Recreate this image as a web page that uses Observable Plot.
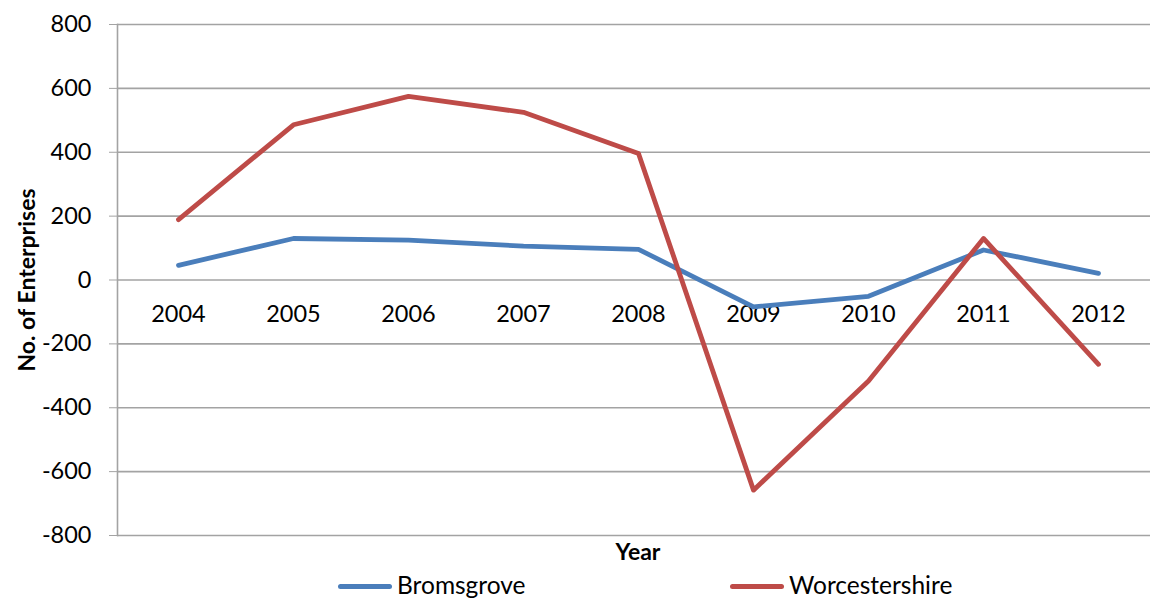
<!DOCTYPE html>
<html>
<head>
<meta charset="utf-8">
<script src="https://cdn.jsdelivr.net/npm/d3@7"></script>
<script src="https://cdn.jsdelivr.net/npm/@observablehq/plot@0.6"></script>
<style>
  html, body { margin: 0; padding: 0; background: #fff; overflow: hidden; }
  #wrap { position: relative; width: 1150px; height: 600px; font-family: Lato, "Open Sans", sans-serif; }
  #legend { position: absolute; left: 0; top: 570px; width: 1150px; height: 30px; overflow: hidden; }
  .item { position: absolute; top: 0px; display: flex; align-items: center; font-size: 24.5px; line-height: 1.2; color: #000; }
  .sw { width: 54px; height: 5px; border-radius: 2.5px; margin-right: 5px; position: relative; top: 2px; }
</style>
</head>
<body>
<div id="wrap">
  <div id="chart"></div>
  <div id="legend"></div>
</div>
<script>
const years = ["2004","2005","2006","2007","2008","2009","2010","2011","2012"];
const bromsgrove = [46, 130, 125, 106, 96, -84, -51, 94, 21];
const worcestershire = [189, 486, 575, 525, 396, -658, -316, 130, -264];
const seriesNames = ["Bromsgrove", "Worcestershire"];
const seriesColors = ["#4a7ebb", "#be4b48"];
const yTicks = [-800, -600, -400, -200, 0, 200, 400, 600, 800];

const rows = [];
years.forEach((yr, i) => {
  rows.push({year: yr, value: bromsgrove[i], series: seriesNames[0]});
  rows.push({year: yr, value: worcestershire[i], series: seriesNames[1]});
});

const chart = Plot.plot({
  width: 1150,
  height: 570,
  marginLeft: 117,
  marginRight: -8,
  marginTop: 24,
  marginBottom: 35,
  style: {fontFamily: "Lato, 'Open Sans', sans-serif", fontSize: "23px", color: "#000", background: "#fff", overflow: "visible"},
  x: {type: "point", domain: years, padding: 0.5, axis: null},
  y: {domain: [-800, 800], axis: null},
  color: {domain: seriesNames, range: seriesColors},
  marks: [
    Plot.gridY(yTicks, {stroke: "#a3a3a3", strokeOpacity: 1, strokeWidth: 1.6}),
    Plot.frame({anchor: "left", stroke: "#a3a3a3", strokeWidth: 1.6}),
    Plot.axisY({
      ticks: yTicks, tickSize: 8, tickPadding: 18, stroke: "#a3a3a3",
      tickFormat: d => String(d), fontSize: 23.5, fill: "#000",
      label: "No. of Enterprises", labelAnchor: "center", labelOffset: 99, labelArrow: "none"
    }),
    Plot.text(years, {x: d => d, y: 0, dy: 34, text: d => d, fontSize: 23.5, fill: "#000"}),
    Plot.text(["Year"], {frameAnchor: "bottom", dy: 24, text: d => d, fontWeight: "bold", fontSize: 23, fill: "#000"}),
    Plot.line(rows, {x: "year", y: "value", stroke: "series", z: "series", strokeWidth: 4.8, strokeLinejoin: "round", strokeLinecap: "round"})
  ]
});
document.getElementById("chart").appendChild(chart);

// bold, larger y label
chart.querySelectorAll("text").forEach(t => {
  if (t.textContent === "No. of Enterprises") { t.setAttribute("font-weight", "bold"); t.setAttribute("font-size", "23"); }
});

const legend = document.getElementById("legend");
const legendLeft = [338, 730];
seriesNames.forEach((name, i) => {
  const item = document.createElement("div");
  item.className = "item";
  item.style.left = legendLeft[i] + "px";
  const sw = document.createElement("span");
  sw.className = "sw";
  sw.style.background = seriesColors[i];
  const tx = document.createElement("span");
  tx.textContent = name;
  item.appendChild(sw);
  item.appendChild(tx);
  legend.appendChild(item);
});
</script>
</body>
</html>
